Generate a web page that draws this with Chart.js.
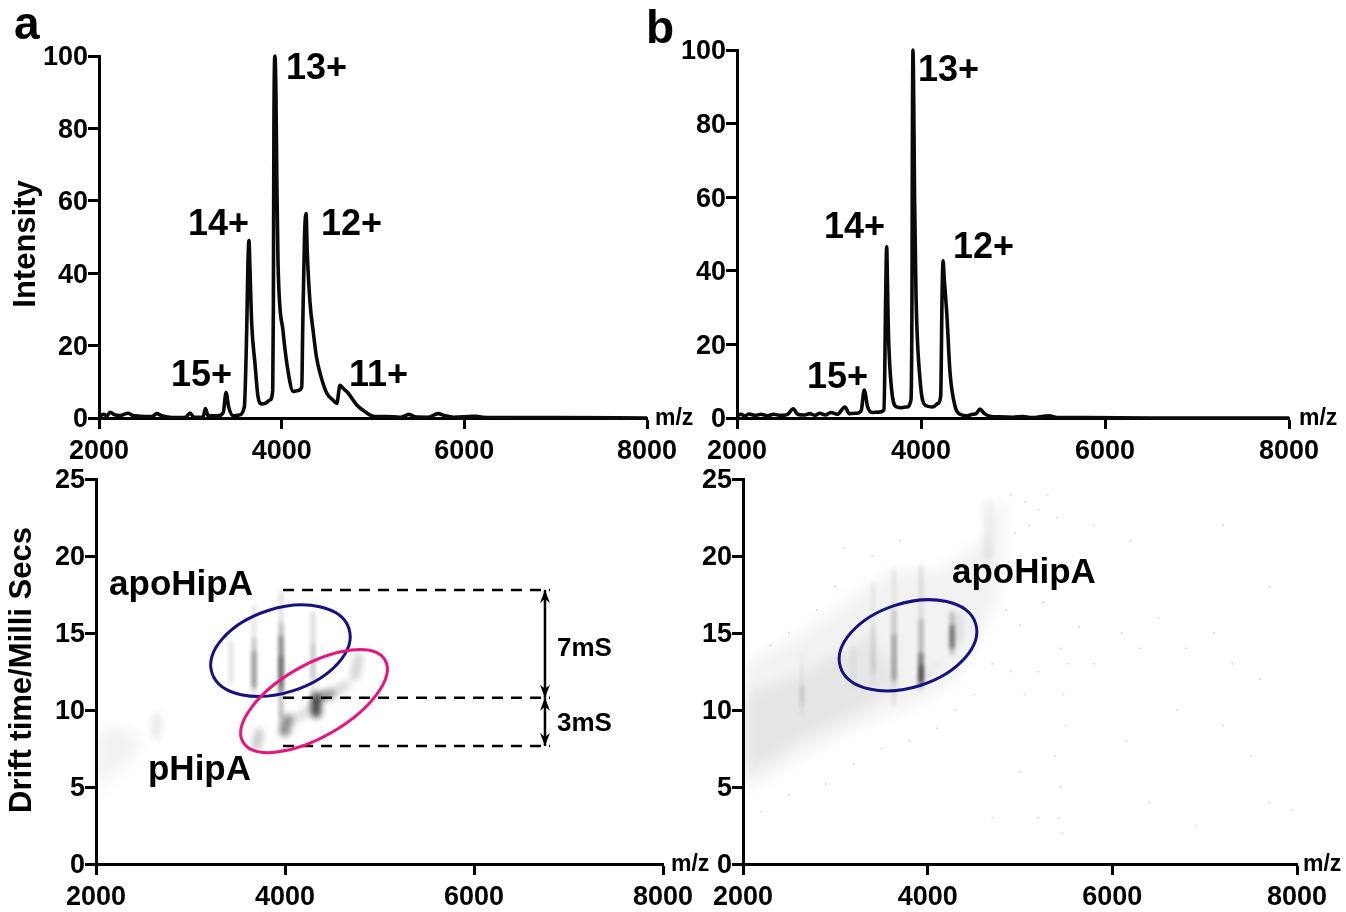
<!DOCTYPE html>
<html>
<head>
<meta charset="utf-8">
<title>HipA native MS and ion mobility</title>
<script src="https://cdn.jsdelivr.net/npm/chart.js@4"></script>
<style>
  html, body { margin:0; padding:0; background:#fff; }
  canvas { position:absolute; left:0; top:0; }
</style>
</head>
<body>
<canvas id="panelA" width="1346" height="912"></canvas>
<canvas id="panelB" width="1346" height="912"></canvas>
<canvas id="panelC" width="1346" height="912"></canvas>
<canvas id="panelD" width="1346" height="912"></canvas>
<script>
// === Data ===
const mzTicks = [2000, 4000, 6000, 8000];
const intensityTicks = [0, 20, 40, 60, 80, 100];
const driftTicks = [0, 5, 10, 15, 20, 25];

const mzA = [2000,2050,2090,2120,2170,2230,2320,2370,2450,2580,2632,2690,2800,2950,2996,3040,3140,3165,3195,3300,3360,3391,3420,3470,3530,3591,3617,3630,3642,3652,3672,3708,3741,3781,3830,3873,3902,3909,3915,3927,3938,3947,3960,4015,4073,4127,4180,4220,4230,4250,4267,4280,4310,4345,4380,4420,4493,4560,4603,4639,4680,4727,4822,4931,5000,5150,5300,5395,5460,5600,5712,5790,5880,6050,6130,6200,6500,7000,8000];
const intA = [0.3,1.0,0.6,1.6,0.9,0.7,1.3,0.7,0.5,0.4,1.2,0.6,0.1,0.2,1.4,0.2,0.3,2.6,0.6,0.6,1.5,7,3,0.6,0.8,3,24,42,49,42,26,15,5.9,3.9,4.2,5,7.7,30,80,100,88,66,42.8,24,12.4,7.3,7.6,8.6,24,50,56.5,46,32,24,17,12.4,6.9,5,4,9,8,6.9,3.6,1.4,0.5,0.4,0.2,1,0.3,0.2,1.2,0.6,0.2,0.4,0.5,0.2,0.1,0.1,0];

const mzB = [2000,2040,2090,2130,2200,2260,2330,2400,2470,2550,2611,2660,2730,2790,2850,2900,2960,3020,3090,3174,3220,3300,3350,3383,3420,3470,3540,3598,3616,3627,3636,3645,3681,3735,3790,3844,3891,3902,3906,3913,3921,3930,3946,3990,4044,4131,4185,4214,4229,4240,4252,4280,4316,4370,4424,4500,4560,4600,4641,4690,4750,4850,5000,5105,5200,5392,5480,5800,6500,8000];
const intB = [0.5,1.0,0.6,1.1,0.7,1.0,0.6,1.0,0.7,1.0,2.5,1.0,0.8,1.2,0.7,1.3,0.8,1.5,1.0,3,1.2,1.3,2,7.6,3,1.5,1.6,2.2,33,46.5,36,24,7.6,3,2.8,3,4.9,33,72,100,86,60,33,10.3,3.5,3,4,6,33,42.7,38,28.5,12.2,3.2,1,0.6,1,1.2,2.4,1.2,0.5,0.3,0.2,0.4,0.1,0.6,0.1,0.1,0,0];

// [m/z, drift bawah, drift atas, kegelapan]
const streaksC = [
  [3429,11.8,14.4,0.12],
  [3672,11.1,16.7,0.12],[3672,11.4,14.6,0.18],[3672,11.6,13.7,0.3],
  [3958,8.5,17.6,0.14],[3958,9.6,15.6,0.2],[3958,11.2,14.7,0.38],[3958,11.6,13.4,0.3],
  [4296,12.1,16.3,0.16],[4296,11,14.2,0.14]
];
const streaksD = [
  [2639,9.6,13.6,0.05],[2639,10.4,11.5,0.12],
  [3191,11.5,14,0.06],
  [3408,11.7,18.2,0.07],[3408,12.5,15.5,0.09],
  [3635,10.4,19.1,0.09],[3635,11.8,16.4,0.16],[3635,12.1,14.8,0.26],
  [3928,11.3,19.3,0.12],[3928,11.7,15.8,0.22],[3928,11.7,13.6,0.45],[3928,11.9,12.8,0.45],
  [4264,13.7,16.3,0.28],[4264,14.1,15.4,0.5]
];
// [m/z1, drift1, m/z2, drift2, kegelapan]
const blobsC = [
  [4330,10.7,4330,9.8,0.72],[4335,10.9,4480,11,0.3],[4400,10.8,4640,11.6,0.14],[4100,9.4,4300,10.2,0.12],
  [4030,9.4,4000,8.6,0.46],[3725,8.5,3700,7.7,0.2],[4740,12.2,4780,13.4,0.16],
  [2640,8.4,2640,9.5,0.08]
];
const blobsD = [
  [4330,14.5,4340,16,0.08],[4654,20.0,4654,23.4,0.06],[3900,12,4100,13,0.03]
];

const washC = [[[2000,4.4],[2000,8.6],[2150,9],[2480,8.4],[2420,7],[2100,5.4]]];
const washD = [
  [[2000,4.6],[2000,13],[2693,15.2],[3235,17.6],[3625,19.1],[4133,19.1],[4643,21.2],[4708,23.4],[4860,23.4],[4760,17],[4567,14.6],[4274,11.8],[3917,10.4],[3408,9.4],[2693,7.2]],
  [[2000,5.6],[2000,11],[2693,12.6],[3400,15],[3700,11.6],[3300,10],[2693,8.2]]
];
const specksD = [
  [5420,3],[5440,5],[5380,7],[5500,9],[5470,11],[5440,14],[5520,13],[5460,2],[5050,11],[5200,12.5],[5640,15.4],[5800,13],[6100,15],[6300,14],[6500,16],[6800,14],[7100,15],[7300,13],[7600,12],[6150,8],[6700,10],[7200,9],[7500,7],[7700,4],[7950,3.5],[6400,4],[6900,2.5],[5000,6],[5200,3],[4700,3],[5800,22],[6200,21],[7200,22],[7700,18],
  [4900,24],[5050,23.5],[5200,23],[5100,22],[4950,21.5],[5300,24],[5400,22.5],[5000,20],[4900,18.5],[5150,19],[4850,16.5],[5000,15.5],[5250,17],[4700,13],[4900,12.5],[4500,11],[4300,10],[4100,8.8],[3800,8],[3500,7.5],[3200,6.5],[2900,5.2],[2500,4.5],[2200,3.4],[3000,18],[2800,16.5],[2500,15],[2300,14.2],[3400,20],[3700,21],[3100,20.5]
];

const dashesC = [[3979,6804,17.8],[3979,6804,10.8],[3979,6804,7.66]];
const arrowsC = [[6751,10.8,17.8],[6751,7.66,10.8]];
const ellipsesC = [[3952,13.85,72,42,-18,'#14147f'],[4307,10.58,82,36,-30,'#e6157f']];
const ellipsesD = [[3787,14.2,71,42,-18,'#14147f']];

const labelsA = [['13+',4048,97],['14+',2975,53.9],['12+',4431,53.9],['15+',2788,12.2],['11+',4737,12.2]];
const labelsB = [['13+',3967,94.8],['14+',2946,52.2],['12+',4348,46.7],['15+',2761,11.4]];
const labelsC = [['apoHipA',2138,18.2],['pHipA',2550,6.2]];
const smallLabelsC = [['7mS',6878,14.1],['3mS',6878,9.2]];
const labelsD = [['apoHipA',4263,19.0]];

const FONT = '"Liberation Sans", Arial, sans-serif';
const pairs = (xs, ys) => xs.map((x, i) => ({ x, y: ys[i] }));

// === Plugin: blur, elips, panah, label ===
const extrasPlugin = {
  id: 'extras',
  beforeDatasetsDraw(chart) {
    chart.ctx.save();
    chart.ctx.filter = 'blur(7px)';   // dipakai filler untuk area abu-abu
  },
  beforeDatasetDraw(chart, args) {
    const ds = chart.data.datasets[args.index];
    chart.ctx.filter = ds.blur ? `blur(${ds.blur}px)` : 'none';
  },
  afterDatasetsDraw(chart) {
    chart.ctx.restore();
  },
  afterDraw(chart, args, opts) {
    const { ctx, scales: { x, y } } = chart;
    ctx.save();
    ctx.fillStyle = '#000';
    ctx.textBaseline = 'middle';
    ctx.textAlign = 'left';

    (opts.ellipses || []).forEach(([mz, d, a, b, rot, color]) => {
      ctx.beginPath();
      ctx.ellipse(x.getPixelForValue(mz), y.getPixelForValue(d), a, b, rot * Math.PI / 180, 0, Math.PI * 2);
      ctx.lineWidth = 3;
      ctx.strokeStyle = color;
      ctx.stroke();
    });

    (opts.arrows || []).forEach(([mz, lo, hi]) => {
      const px = x.getPixelForValue(mz), y0 = y.getPixelForValue(lo), y1 = y.getPixelForValue(hi);
      [[y0, -1], [y1, 1]].forEach(([tip, dir]) => {
        ctx.beginPath();
        ctx.moveTo(px, tip);
        ctx.lineTo(px - 5, tip + dir * 13);
        ctx.lineTo(px, tip + dir * 9);
        ctx.lineTo(px + 5, tip + dir * 13);
        ctx.closePath();
        ctx.fill();
      });
    });

    ctx.font = `bold ${opts.labelSize}px ${FONT}`;
    (opts.labels || []).forEach(([t, mz, v]) => ctx.fillText(t, x.getPixelForValue(mz), y.getPixelForValue(v) + 2));
    ctx.font = `bold 26px ${FONT}`;
    (opts.smallLabels || []).forEach(([t, mz, v]) => ctx.fillText(t, x.getPixelForValue(mz), y.getPixelForValue(v) + 2));

    ctx.font = `bold 23px ${FONT}`;
    ctx.fillText('m/z', x.right + opts.unitGap, y.bottom + 1);

    if (opts.letter) {
      ctx.font = `bold 46px ${FONT}`;
      ctx.fillText(opts.letter[0], opts.letter[1], opts.letter[2]);
    }
    if (opts.yTitle) {
      ctx.translate(opts.yTitle[1], opts.yTitle[2]);
      ctx.rotate(-Math.PI / 2);
      ctx.textAlign = 'center';
      ctx.font = `bold 31px ${FONT}`;
      ctx.fillText(opts.yTitle[0], 0, 0);
    }
    ctx.restore();
  }
};

// === Fungsi pembuat panel ===
function makePanel(canvasId, area, yMax, yTicks, datasets, extras) {
  const yWidth = 90, xHeight = 45;
  const axisFont = { family: FONT, size: 27, weight: 'bold' };
  const grid = { drawOnChartArea: false, drawTicks: true, tickLength: 11, tickWidth: 3, tickColor: '#000' };
  const border = { display: true, color: '#000', width: 3 };
  return new Chart(document.getElementById(canvasId).getContext('2d'), {
    type: 'scatter',
    data: { datasets },
    options: {
      responsive: false, animation: false, events: [],
      layout: { padding: {
        left: area.left - yWidth, top: area.top,
        right: 1346 - area.right, bottom: 912 - area.bottom - xHeight
      }},
      plugins: { legend: { display: false }, tooltip: { enabled: false }, extras },
      scales: {
        x: {
          type: 'linear', min: 2000, max: 8000, grid, border,
          ticks: { color: '#000', font: axisFont, padding: 6, maxRotation: 0, autoSkip: false, stepSize: 2000,
                   callback: v => mzTicks.includes(v) ? String(v) : '' },
          afterFit: s => { s.height = xHeight; s.paddingLeft = 0; s.paddingRight = 0; }
        },
        y: {
          type: 'linear', min: 0, max: yMax, grid, border,
          ticks: { color: '#000', font: axisFont, padding: 0, labelOffset: 2, autoSkip: false, stepSize: yTicks[1] - yTicks[0] },
          afterFit: s => { s.width = yWidth; s.paddingTop = 0; s.paddingBottom = 0; }
        }
      }
    },
    plugins: [extrasPlugin]
  });
}

function spectrumSet(xs, ys) {
  return { data: pairs(xs, ys), showLine: true, borderColor: '#0a0a0a', borderWidth: 3.6,
           pointRadius: 0, cubicInterpolationMode: 'monotone', borderJoinStyle: 'round', clip: 4 };
}

// Susun dataset peta drift: area -> blob -> garis -> putus-putus (dataset pertama digambar paling atas)
function driftSets(wash, streaks, blobs, dashes, specks) {
  const sets = [];
  (dashes || []).forEach(([x1, x2, d]) => sets.push({
    data: [{ x: x1, y: d }, { x: x2, y: d }], showLine: true, borderColor: '#000', borderWidth: 2.5,
    borderDash: [11, 8], pointRadius: 0
  }));
  (dashes ? arrowsC : []).forEach(([mz, lo, hi]) => sets.push({
    data: [{ x: mz, y: lo }, { x: mz, y: hi }], showLine: true, borderColor: '#000', borderWidth: 2.5, pointRadius: 0
  }));
  streaks.forEach(([mz, lo, hi, k]) => sets.push({
    data: [{ x: mz, y: lo }, { x: mz, y: hi }], showLine: true, borderColor: `rgba(0,0,0,${k})`,
    borderWidth: 4, borderCapStyle: 'round', pointRadius: 0, blur: 2.2
  }));
  blobs.forEach(([x1, y1, x2, y2, k]) => sets.push({
    data: [{ x: x1, y: y1 }, { x: x2, y: y2 }], showLine: true, borderColor: `rgba(0,0,0,${k})`,
    borderWidth: 10, borderCapStyle: 'round', pointRadius: 0, blur: 3
  }));
  if (specks) sets.push({ data: specks.map(([x, y]) => ({ x, y })), pointRadius: 1, borderWidth: 0,
    backgroundColor: 'rgba(0,0,0,0.16)' });
  wash.forEach(poly => sets.push({
    data: poly.map(([x, y]) => ({ x, y })), showLine: true, borderWidth: 0, pointRadius: 0,
    fill: 'shape', backgroundColor: 'rgba(0,0,0,0.05)', blur: 7
  }));
  return sets;
}

// === Inisialisasi ===
makePanel('panelA', { left: 99, right: 647, top: 56, bottom: 418 }, 100, intensityTicks,
  [spectrumSet(mzA, intA)],
  { labels: labelsA, labelSize: 36, unitGap: 8, letter: ['a', 14, 26], yTitle: ['Intensity', 26, 244] });

makePanel('panelB', { left: 737, right: 1289, top: 50, bottom: 418 }, 100, intensityTicks,
  [spectrumSet(mzB, intB)],
  { labels: labelsB, labelSize: 36, unitGap: 10, letter: ['b', 646, 30] });

makePanel('panelC', { left: 96, right: 663, top: 479, bottom: 864 }, 25, driftTicks,
  driftSets(washC, streaksC, blobsC, dashesC),
  { labels: labelsC, labelSize: 35, smallLabels: smallLabelsC, ellipses: ellipsesC, arrows: arrowsC, unitGap: 8,
    yTitle: ['Drift time/Milli Secs', 22, 670] });

makePanel('panelD', { left: 743, right: 1297, top: 479, bottom: 864 }, 25, driftTicks,
  driftSets(washD, streaksD, blobsD, null, specksD),
  { labels: labelsD, labelSize: 35, ellipses: ellipsesD, unitGap: 6 });
</script>
</body>
</html>
